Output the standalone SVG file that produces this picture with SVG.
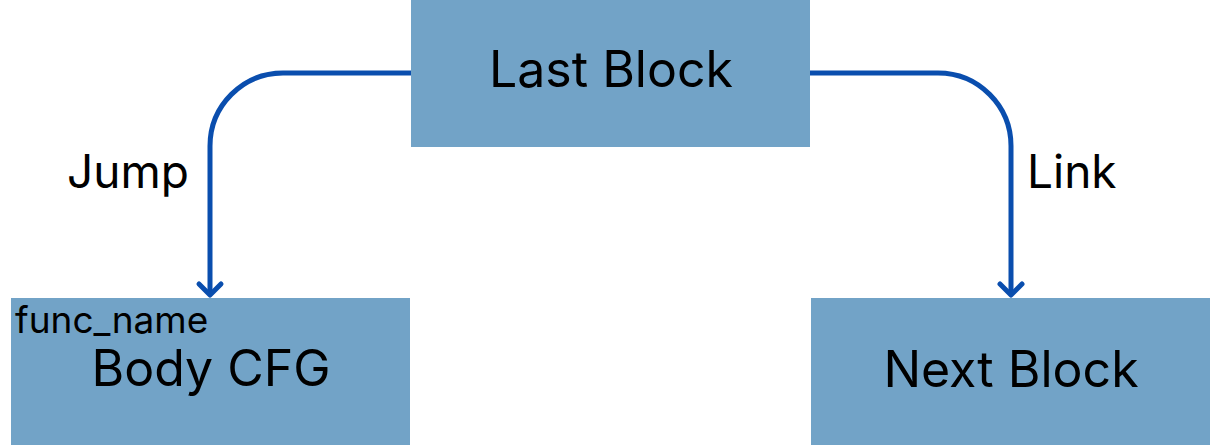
<svg xmlns="http://www.w3.org/2000/svg" width="1225" height="447" viewBox="0 0 1225 447">
<defs>
<style>
.box{fill:#72a3c7;}
.t{font-family:Inter,"Liberation Sans",sans-serif;fill:#000;}
.big{font-size:50px;text-anchor:middle;}
.lbl{font-size:46px;}
.small{font-size:37px;}
.edge{fill:none;stroke:#0a4eae;stroke-width:5;}
.head{fill:none;stroke:#0a4eae;stroke-width:5;stroke-linecap:round;stroke-linejoin:round;}
</style>
</defs>
<g id="connectors">
<path class="edge" d="M411,73 H283 A73,73 0 0 0 210,146 V295"/>
<path class="head" d="M199,284 L210,295 L221,284"/>
<text class="t lbl" x="67" y="188">Jump</text>
<path class="edge" d="M810,73 H938 A73,73 0 0 1 1011,146 V295"/>
<path class="head" d="M1000,284 L1011,295 L1022,284"/>
<text class="t lbl" x="1027" y="188">Link</text>
</g>
<g id="last-block">
<rect class="box" x="411" y="0" width="399" height="147"/>
<text class="t big" x="611" y="87">Last Block</text>
</g>
<g id="body-cfg">
<rect class="box" x="11" y="298" width="399" height="147"/>
<text class="t small" x="15" y="333">func_name</text>
<text class="t big" x="211" y="386">Body CFG</text>
</g>
<g id="next-block">
<rect class="box" x="811" y="298" width="399" height="147"/>
<text class="t big" x="1011" y="387">Next Block</text>
</g>
</svg>
